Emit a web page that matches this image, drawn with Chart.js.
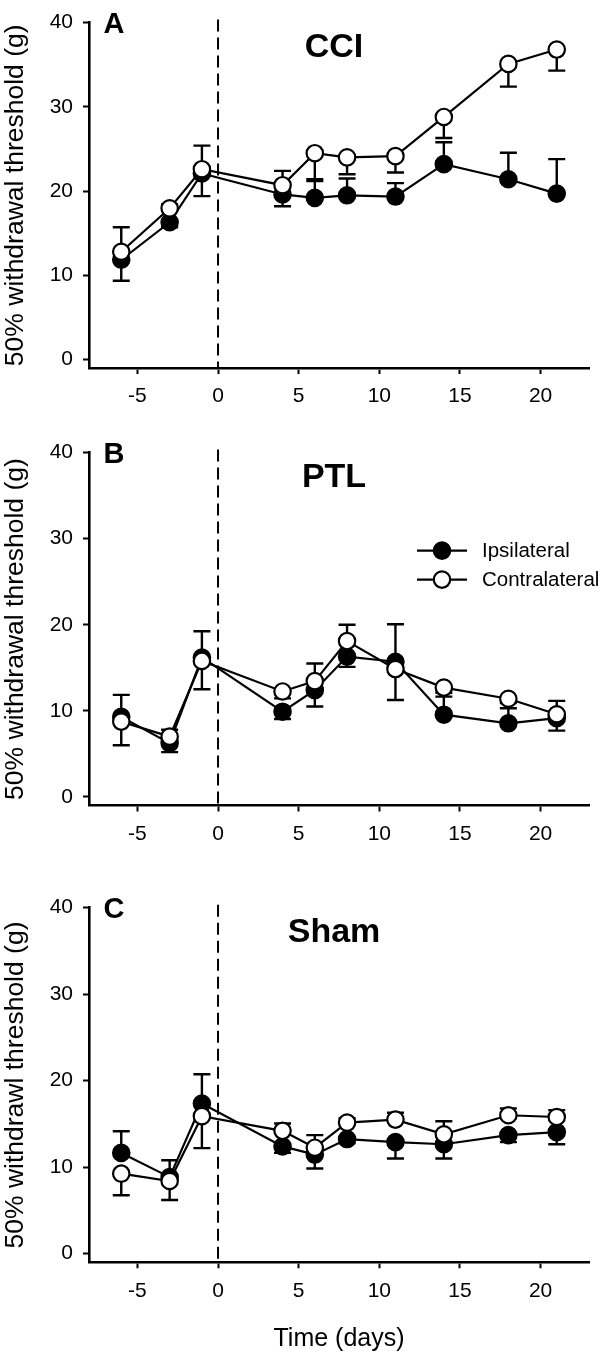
<!DOCTYPE html>
<html><head><meta charset="utf-8">
<script src="https://cdn.jsdelivr.net/npm/chart.js@4.4.0/dist/chart.umd.min.js"></script>
<style>
html,body{margin:0;padding:0;background:#fff;width:600px;height:1356px;overflow:hidden}
.panel{position:absolute;left:0;width:600px}
</style></head><body>
<div class="panel" style="top:0;height:420px"><canvas id="cA"></canvas></div>
<div class="panel" style="top:430px;height:420px"><canvas id="cB"></canvas></div>
<div class="panel" style="top:860px;height:496px"><canvas id="cC"></canvas></div>
<script>
// ---- data ----
const days = [-6, -3, -1, 4, 6, 8, 11, 14, 18, 21];
const xTicks = [-5, 0, 5, 10, 15, 20];
const yTicks = [0, 10, 20, 30, 40];
const surgeryDay = 0;
const seriesNames = ['Ipsilateral', 'Contralateral'];

// CCI
const cciIpsi      = [11.85, 16.3, 22.1, 19.6, 19.2, 19.5, 19.35, 23.2, 21.4, 19.7];
const cciIpsiErr   = [2.5, 0.6, 2.7, 1.4, 2.2, 2.0, 1.6, 2.6, 3.15, 4.1];
const cciIpsiDir   = [-1, -1, -1, -1, 1, 1, 1, 1, 1, 1];
const cciContra    = [12.8, 17.95, 22.6, 20.7, 24.5, 24.0, 24.15, 28.8, 35.1, 36.8];
const cciContraErr = [2.9, 0.5, 2.8, 1.7, 3.3, 2.0, 1.95, 2.5, 2.7, 2.5];
const cciContraDir = [1, 1, 1, 1, -1, -1, -1, -1, -1, -1];

// PTL
const ptlIpsi      = [9.3, 6.25, 16.2, 9.9, 12.4, 16.3, 15.7, 9.55, 8.55, 9.15];
const ptlIpsiErr   = [2.55, 1.05, 3.05, 0.85, 1.9, 1.2, 4.35, 2.1, 1.75, 1.45];
const ptlIpsiDir   = [1, -1, 1, -1, -1, -1, 1, 1, 1, -1];
const ptlContra    = [8.75, 7.0, 15.8, 12.25, 13.45, 18.1, 14.85, 12.7, 11.4, 9.6];
const ptlContraErr = [2.75, 0.8, 3.3, 0.8, 2.05, 1.9, 3.6, 0.6, 0.5, 1.55];
const ptlContraDir = [-1, 1, -1, -1, 1, 1, -1, -1, -1, 1];

// Sham
const shamIpsi      = [11.65, 8.85, 17.35, 12.4, 11.45, 13.25, 12.9, 12.65, 13.7, 14.05];
const shamIpsiErr   = [2.5, 1.95, 3.4, 0.75, 1.6, 0.5, 1.9, 1.65, 0.8, 1.4];
const shamIpsiDir   = [1, 1, 1, -1, -1, -1, -1, -1, -1, -1];
const shamContra    = [9.25, 8.4, 15.9, 14.2, 12.25, 15.15, 15.5, 13.8, 16.0, 15.8];
const shamContraErr = [2.5, 2.2, 3.7, 0.85, 1.45, 0.5, 0.8, 1.5, 0.8, 0.8];
const shamContraDir = [-1, -1, -1, 1, 1, 1, 1, 1, 1, 1];

// ---- drawing ----
const FONT = "'Liberation Sans', Arial, Helvetica, sans-serif";
const PR = 8.2;

const errorBarPlugin = {
  id: 'errorBars',
  beforeDatasetsDraw(chart) {
    const ctx = chart.ctx, ys = chart.scales.y;
    chart.data.datasets.forEach((ds, di) => {
      const meta = chart.getDatasetMeta(di);
      ctx.save();
      ctx.strokeStyle = '#000';
      ctx.lineWidth = 2.4;
      meta.data.forEach((pt, i) => {
        const v = ds.data[i].y + ds.errors[i] * ds.errDir[i];
        const y1 = ys.getPixelForValue(v);
        ctx.beginPath();
        ctx.moveTo(pt.x, pt.y); ctx.lineTo(pt.x, y1);
        ctx.moveTo(pt.x - 8.5, y1); ctx.lineTo(pt.x + 8.5, y1);
        ctx.stroke();
      });
      ctx.restore();
    });
  }
};

const dashPlugin = {
  id: 'dashLine',
  beforeDatasetsDraw(chart) {
    const ctx = chart.ctx, a = chart.chartArea;
    const x = chart.scales.x.getPixelForValue(surgeryDay);
    const yTop = chart.scales.y.getPixelForValue(40) - 3;
    ctx.save();
    ctx.strokeStyle = '#000'; ctx.lineWidth = 2;
    ctx.setLineDash([12, 6]);
    ctx.beginPath(); ctx.moveTo(x, yTop); ctx.lineTo(x, a.bottom); ctx.stroke();
    ctx.restore();
  }
};

const decoPlugin = {
  id: 'deco',
  afterDraw(chart, args, opts) {
    const ctx = chart.ctx, a = chart.chartArea;
    const top = chart.scales.y.getPixelForValue(40);
    ctx.save();
    ctx.fillStyle = '#000';
    ctx.textAlign = 'center'; ctx.textBaseline = 'middle';
    ctx.font = 'bold 29px ' + FONT;
    ctx.fillText(opts.letter, a.left + 25, top + 2);
    ctx.font = 'bold 34px ' + FONT;
    ctx.fillText(opts.title, 334, top + 25);
    if (opts.legend) {
      ctx.lineWidth = 2.2; ctx.strokeStyle = '#000';
      seriesNames.forEach((name, i) => {
        const y = top + 98 + i * 29;
        ctx.beginPath(); ctx.moveTo(417, y); ctx.lineTo(467, y); ctx.stroke();
        ctx.beginPath(); ctx.arc(442, y, PR, 0, Math.PI * 2);
        ctx.fillStyle = i === 0 ? '#000' : '#fff';
        ctx.fill(); ctx.stroke();
        ctx.fillStyle = '#000';
        ctx.textAlign = 'left';
        ctx.font = '20.5px ' + FONT;
        ctx.fillText(name, 482, y + 1);
      });
    }
    ctx.restore();
  }
};

function pts(vals) { return vals.map((v, i) => ({x: days[i], y: vals[i]})); }

function makeChart(id, p) {
  const ds = [
    {label: seriesNames[0], data: pts(p.ipsi), errors: p.ipsiErr, errDir: p.ipsiDir,
     borderColor: '#000', borderWidth: 2.2, pointBackgroundColor: '#000', pointBorderColor: '#000',
     pointBorderWidth: 2.2, pointRadius: PR, tension: 0, order: 1},
    {label: seriesNames[1], data: pts(p.contra), errors: p.contraErr, errDir: p.contraDir,
     borderColor: '#000', borderWidth: 2.2, pointBackgroundColor: '#fff', pointBorderColor: '#000',
     pointBorderWidth: 2.2, pointRadius: PR, tension: 0, order: 0}
  ];
  return new Chart(document.getElementById(id), {
    type: 'line',
    data: {datasets: ds},
    plugins: [errorBarPlugin, dashPlugin, decoPlugin],
    options: {
      responsive: true, maintainAspectRatio: false, animation: false, events: [],
      devicePixelRatio: 1,
      layout: {padding: {top: p.padTop, right: 11, left: 0, bottom: 0}},
      plugins: {legend: {display: false}, tooltip: {enabled: false},
        deco: {letter: p.letter, title: p.title, legend: p.legend}},
      scales: {
        x: {
          type: 'linear', min: -8, max: 23,
          afterBuildTicks: s => { s.ticks = xTicks.map(v => ({value: v})); },
          afterFit: s => { s.height = p.xHeight; },
          grid: {display: true, drawOnChartArea: false, drawTicks: true, tickLength: 6, tickWidth: 2, tickColor: '#000', color: '#000'},
          border: {display: true, color: '#000', width: 2.6},
          ticks: {color: '#000', font: {family: FONT, size: 21}, padding: 10, maxRotation: 0},
          title: {display: p.xTitle, text: 'Time (days)', color: '#000', font: {family: FONT, size: 25}, padding: {top: 0, bottom: 1.5}}
        },
        y: {
          type: 'linear', min: -1, max: 40,
          afterBuildTicks: s => { s.ticks = yTicks.map(v => ({value: v})); },
          afterFit: s => { s.width = 89; },
          grid: {display: true, drawOnChartArea: false, drawTicks: true, tickLength: 6, tickWidth: 2, tickColor: '#000', color: '#000'},
          border: {display: true, color: '#000', width: 2.6},
          ticks: {color: '#000', font: {family: FONT, size: 21}, padding: 10},
          title: {display: true, text: p.yTitle, color: '#000', font: {family: FONT, size: 26.5}, padding: {top: 0, bottom: 0}}
        }
      }
    }
  });
}

makeChart('cA', {ipsi: cciIpsi, ipsiErr: cciIpsiErr, ipsiDir: cciIpsiDir,
  contra: cciContra, contraErr: cciContraErr, contraDir: cciContraDir,
  padTop: 13, xHeight: 52, xTitle: false, letter: 'A', title: 'CCI', legend: false,
  yTitle: '50% withdrawal threshold (g)'});
makeChart('cB', {ipsi: ptlIpsi, ipsiErr: ptlIpsiErr, ipsiDir: ptlIpsiDir,
  contra: ptlContra, contraErr: ptlContraErr, contraDir: ptlContraDir,
  padTop: 20, xHeight: 44.5, xTitle: false, letter: 'B', title: 'PTL', legend: true,
  yTitle: '50% withdrawal threshold (g)'});
makeChart('cC', {ipsi: shamIpsi, ipsiErr: shamIpsiErr, ipsiDir: shamIpsiDir,
  contra: shamContra, contraErr: shamContraErr, contraDir: shamContraDir,
  padTop: 47.7, xHeight: 93.7, xTitle: true, letter: 'C', title: 'Sham', legend: false,
  yTitle: '50% withdrawl threshold (g)'});
</script>
</body></html>
